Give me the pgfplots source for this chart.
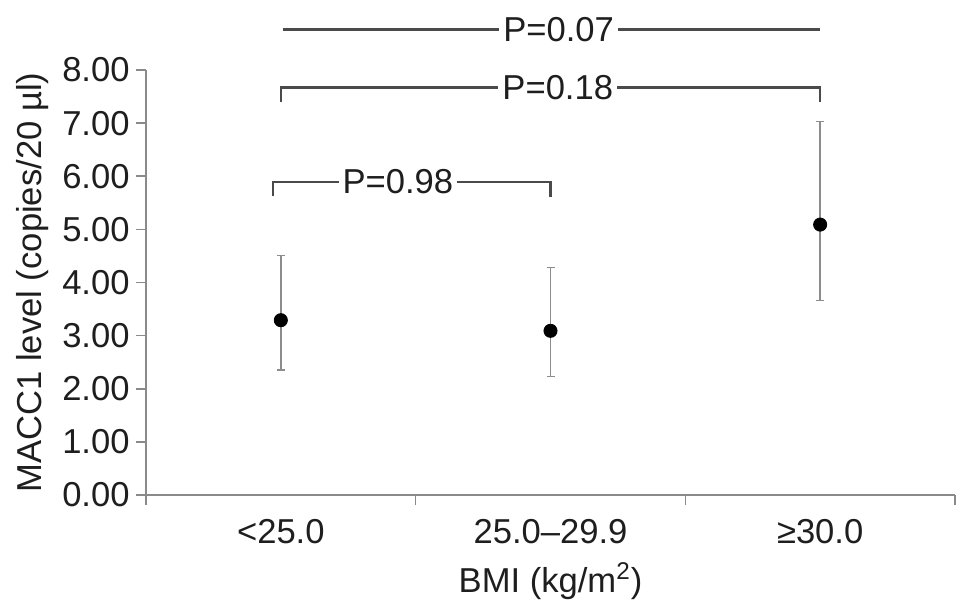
\documentclass[border=0pt]{standalone}
\usepackage{pgfplots}
\pgfplotsset{compat=1.18}
\usepackage{fontspec}
\setmainfont{Liberation Sans}
\definecolor{axgray}{HTML}{8A8A8A}
\definecolor{ebgray}{HTML}{8C8C8C}
\definecolor{brgray}{HTML}{4A4A4A}
\definecolor{txt}{HTML}{1E1E1E}
\begin{document}
\fontsize{17.3}{20.8}\selectfont
\begin{tikzpicture}
\begin{axis}[
  scale only axis, width=404.5pt, height=212.5pt,
  xmin=-0.5, xmax=2.5, ymin=0, ymax=8,
  clip=false,
  axis x line=bottom, axis y line=left,
  axis line style={-, draw=axgray, line width=1.2pt},
  tick align=outside, major tick length=5pt,
  tick style={draw=axgray, line width=0.8pt},
  xtick={-0.5,0.5,1.5,2.5}, xticklabels={},
  extra x ticks={0,1,2},
  extra x tick labels={{<25.0},{25.0–29.9},{≥30.0}},
  extra x tick style={major tick length=0pt, xticklabel style={yshift=-6.2pt}},
  ytick={0,1,...,8},
  /pgf/number format/assume math mode=true,
  yticklabel style={inner xsep=3pt, /pgf/number format/fixed, /pgf/number format/fixed zerofill, /pgf/number format/precision=2},
  ticklabel style={text=txt},
  xlabel={BMI (kg/m\textsuperscript{2})},
  xlabel style={at={(axis description cs:0.5,0)}, anchor=center, yshift=-43pt, text=txt},
  ylabel={MACC1 level (copies/20 µl)},
  ylabel style={at={(axis description cs:-0.14,0.5)}, anchor=center, text=txt},
]
\addplot[only marks, mark=*, mark size=3.3pt, mark options={fill=black, draw=black},
  error bars/.cd, y dir=both, y explicit,
  error bar style={draw=ebgray, line width=0.8pt},
  error mark options={draw=ebgray, mark size=2pt, line width=0.8pt, rotate=90}]
  coordinates {
    (0,3.29) += (0,1.22) -= (0,0.94)
    (1,3.09) += (0,1.19) -= (0,0.86)
    (2,5.09) += (0,1.94) -= (0,1.43)
  };
% brackets
\draw[brgray, line width=1.2pt] (axis cs:-0.03,5.63) -- (axis cs:-0.03,5.89) -- (axis cs:1.0,5.89) -- (axis cs:1.0,5.60);
\node[fill=white, inner xsep=2pt, inner ysep=0pt, text=txt] at (axis cs:0.434,5.89) {P=0.98};
\draw[brgray, line width=1.2pt] (axis cs:0,7.40) -- (axis cs:0,7.67) -- (axis cs:2.0,7.67) -- (axis cs:2.0,7.40);
\node[fill=white, inner xsep=2pt, inner ysep=0pt, text=txt] at (axis cs:1.027,7.67) {P=0.18};
\draw[brgray, line width=1.2pt] (axis cs:0.007,8.76) -- (axis cs:2.0,8.76);
\node[fill=white, inner xsep=2pt, inner ysep=0pt, text=txt] at (axis cs:1.03,8.76) {P=0.07};
\coordinate (sw) at (rel axis cs:0,0);
\end{axis}
\path ([shift={(-73pt,-59pt)}]sw) rectangle ([shift={(411.5pt,247.5pt)}]sw);
\end{tikzpicture}
\end{document}
